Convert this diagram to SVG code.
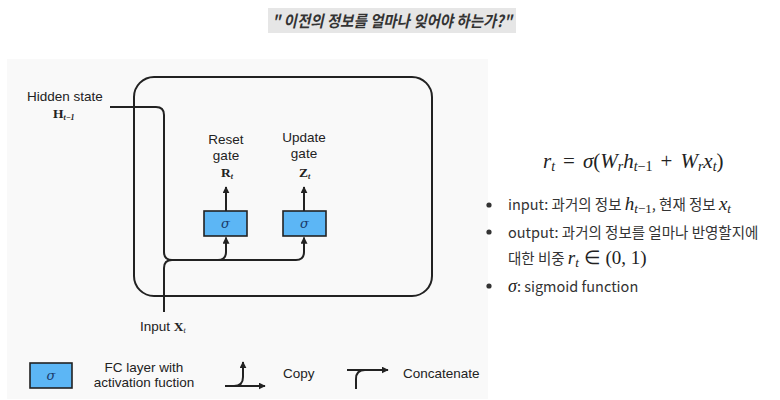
<svg xmlns="http://www.w3.org/2000/svg" width="780" height="400" viewBox="0 0 780 400">
<defs>
<marker id="ah" viewBox="0 0 10 10" refX="9" refY="5" markerWidth="7" markerHeight="7" markerUnits="userSpaceOnUse" orient="auto">
<path d="M0,0 L10,5 L0,10 z" fill="#222"/>
</marker>
<style>
.ln{fill:none;stroke:#222;stroke-width:2}
.lbl{font-family:"Liberation Sans",Arial,sans-serif;font-size:13.5px;fill:#222}
.mb{font-family:"Liberation Serif","Times New Roman",serif;font-weight:bold;font-size:13.5px;fill:#222}
.sub{font-family:"Liberation Serif",serif;font-style:italic;font-size:8px;fill:#222}
.box{fill:#5cb6f5;stroke:#222;stroke-width:1.6}
.sig{font-family:"DejaVu Serif","Liberation Serif",serif;font-style:italic;font-size:13px;fill:#1a3a6a}
.kr{font-family:"Noto Sans CJK KR","Noto Sans",sans-serif;font-size:14.5px;fill:#333}
.m{font-family:"Liberation Serif","Times New Roman",serif;font-style:italic;fill:#222}
.mr{font-family:"Liberation Serif","Times New Roman",serif;font-style:normal;fill:#222}
</style>
</defs>
<rect x="0" y="0" width="780" height="400" fill="#ffffff"/>
<g id="title">
<rect x="268" y="8" width="248" height="25" fill="#e6e6e6"/>
<text x="272" y="27" font-family="'Noto Sans CJK KR',sans-serif" font-size="16" font-weight="bold" font-style="italic" fill="#333" textLength="240" lengthAdjust="spacingAndGlyphs">" 이전의 정보를 얼마나 잊어야 하는가?"</text>
</g>
<g id="panel">
<rect x="7" y="59" width="481" height="340" fill="#f9f9f9"/>
</g>
<g id="cell">
<rect x="134" y="77" width="298" height="219" rx="20" ry="20" class="ln"/>
</g>
<g id="connectors">
<path class="ln" d="M110,107 H156 Q164,107 164,115 V252 Q164,260 172,260 H218 Q226,260 226,252 V237.5" marker-end="url(#ah)"/>
<path class="ln" d="M218,260 H296 Q304,260 304,252 V237.5" marker-end="url(#ah)"/>
<path class="ln" d="M164,312 V268 Q164,260 172,260"/>
<path class="ln" d="M226,211 V187" marker-end="url(#ah)"/>
<path class="ln" d="M304,211 V187" marker-end="url(#ah)"/>
</g>
<g id="hidden-state">
<text x="27" y="101" class="lbl">Hidden state</text>
<text x="53" y="118" class="mb">H<tspan class="sub" dy="2">t−1</tspan></text>
</g>
<g id="reset-gate">
<text x="226" y="144" class="lbl" text-anchor="middle">Reset</text>
<text x="226" y="160" class="lbl" text-anchor="middle">gate</text>
<text x="221" y="177" class="mb">R<tspan class="sub" dy="2">t</tspan></text>
<rect x="204" y="211" width="43" height="25" class="box"/>
<text x="225.5" y="228" class="sig" text-anchor="middle">σ</text>
</g>
<g id="update-gate">
<text x="304" y="142" class="lbl" text-anchor="middle">Update</text>
<text x="304" y="158" class="lbl" text-anchor="middle">gate</text>
<text x="299" y="177" class="mb">Z<tspan class="sub" dy="2">t</tspan></text>
<rect x="283" y="211" width="43" height="25" class="box"/>
<text x="304.5" y="228" class="sig" text-anchor="middle">σ</text>
</g>
<g id="input">
<text x="140" y="331" class="lbl">Input <tspan class="mb">X</tspan><tspan class="sub" dy="2">t</tspan></text>
</g>
<g id="legend">
<rect x="30" y="363" width="42" height="25" class="box"/>
<text x="51" y="380" class="sig" text-anchor="middle">σ</text>
<text x="144" y="372" class="lbl" text-anchor="middle">FC layer with</text>
<text x="144" y="387" class="lbl" text-anchor="middle">activation fuction</text>
<path class="ln" d="M225,386 H265" marker-end="url(#ah)"/>
<path class="ln" d="M234,386 Q243,386 243,377 V362" marker-end="url(#ah)"/>
<text x="283" y="378" class="lbl">Copy</text>
<path class="ln" d="M347,370 H388" marker-end="url(#ah)"/>
<path class="ln" d="M356,389 V379 Q356,370 365,370"/>
<text x="403" y="378" class="lbl">Concatenate</text>
</g>
<g id="explanation">
<text x="543" y="168" class="m" font-size="21">r<tspan font-size="14" dy="3">t</tspan><tspan class="mr" dy="-3" dx="8">=</tspan><tspan dx="8">σ</tspan><tspan class="mr">(</tspan>W<tspan font-size="14" dy="3">r</tspan><tspan dy="-3">h</tspan><tspan font-size="14" dy="3">t<tspan class="mr">−1</tspan></tspan><tspan class="mr" dy="-3" dx="8">+</tspan><tspan dx="8">W</tspan><tspan font-size="14" dy="3">r</tspan><tspan dy="-3">x</tspan><tspan font-size="14" dy="3">t</tspan><tspan class="mr" dy="-3">)</tspan></text>
<circle cx="489" cy="205" r="2.6" fill="#333"/>
<text x="508" y="210" class="kr">input: 과거의 정보 <tspan class="m" font-size="19">h</tspan><tspan class="m" font-size="13" dy="3">t<tspan class="mr">−1</tspan></tspan><tspan dy="-3">, 현재 정보 </tspan><tspan class="m" font-size="19">x</tspan><tspan class="m" font-size="13" dy="3">t</tspan></text>
<circle cx="489" cy="232" r="2.6" fill="#333"/>
<text x="508" y="238" class="kr">output: 과거의 정보를 얼마나 반영할지에</text>
<text x="508" y="264" class="kr">대한 비중 <tspan class="m" font-size="19">r</tspan><tspan class="m" font-size="13" dy="3">t</tspan><tspan class="mr" font-size="19" dy="-3"> ∈ (0, 1)</tspan></text>
<circle cx="489" cy="286" r="2.6" fill="#333"/>
<text x="508" y="292" class="kr"><tspan class="m" font-size="18">σ</tspan>: sigmoid function</text>
</g>
</svg>
